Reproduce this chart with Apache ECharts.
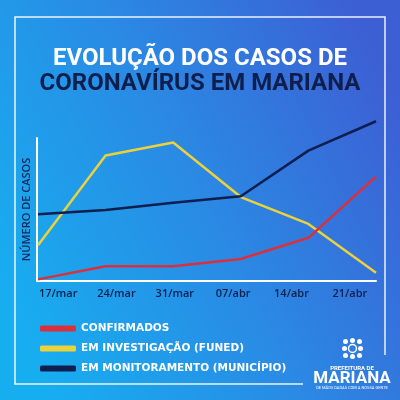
<!DOCTYPE html>
<html><head><meta charset="utf-8">
<script src="https://cdn.jsdelivr.net/npm/echarts@6/dist/echarts.min.js"></script>
<style>html,body{margin:0;padding:0;}#c{width:400px;height:400px;}</style>
</head><body><div id="c"></div>
<script>
var categories = ['17/mar','24/mar','31/mar','07/abr','14/abr','21/abr'];
var confirmados = [1, 9, 9, 13.5, 26.5, 64];
var investigacao = [22, 77, 85, 51.5, 35, 5];
var monitoramento = [41, 43.5, 48, 52, 80, 98];
var seriesNames = ['CONFIRMADOS','EM INVESTIGAÇÃO (FUNED)','EM MONITORAMENTO (MUNICÍPIO)'];
var seriesColors = ['#d9303c','#ecd23a','#0e1e4f'];

var chart = echarts.init(document.getElementById('c'));
var lineFont = 'DejaVu Sans';
chart.setOption({
  animation:false,
  backgroundColor:{type:'linear',x:0,y:0.75,x2:1,y2:0.25,colorStops:[
    {offset:0,color:'#17aef0'},{offset:0.5,color:'#2a8ae4'},{offset:1,color:'#3d5fd4'}]},
  title:[
    {text:'EVOLUÇÃO DOS CASOS DE',left:'center',top:42,textStyle:{color:'#ffffff',fontFamily:'Roboto',fontWeight:'bold',fontSize:24}},
    {text:'CORONAVÍRUS EM MARIANA',left:'center',top:67,textStyle:{color:'#0f1f4d',fontFamily:'Roboto',fontWeight:'bold',fontSize:24}}
  ],
  legend:{orient:'vertical',left:40,top:323,padding:0,itemWidth:36,itemHeight:6,itemGap:9,itemTextGap:10,
    icon:'roundRect',data:seriesNames,
    textStyle:{color:'#ffffff',fontFamily:lineFont,fontWeight:'bold',fontSize:10.5}},
  grid:[
    {left:38,right:24,top:118,bottom:119},
    {left:29,right:21,top:138,bottom:119},
    {left:37,right:362,top:138,bottom:119}
  ],
  xAxis:[
    {type:'category',gridIndex:0,data:categories,boundaryGap:false,
      axisLine:{lineStyle:{color:'#ffffff',width:2}},axisTick:{show:false},axisLabel:{show:false}},
    {type:'category',gridIndex:1,data:categories,boundaryGap:true,
      axisLine:{show:false},axisTick:{show:false},
      axisLabel:{color:'#0f1f4d',fontFamily:'Open Sans',fontWeight:600,fontSize:11,margin:7}},
    {type:'category',gridIndex:2,data:categories,show:false}
  ],
  yAxis:[
    {type:'value',gridIndex:0,min:0,max:100,show:false},
    {type:'value',gridIndex:1,show:false},
    {type:'value',gridIndex:2,min:0,max:100,
      axisLine:{show:true,lineStyle:{color:'#ffffff',width:2}},axisTick:{show:false},axisLabel:{show:false},splitLine:{show:false},
      name:'NÚMERO DE CASOS',nameLocation:'middle',nameRotate:90,nameGap:5,
      nameTextStyle:{color:'#15265a',fontFamily:'Open Sans',fontWeight:600,fontSize:11}}
  ],
  series:[
    {name:seriesNames[1],type:'line',data:investigacao,symbol:'none',xAxisIndex:0,yAxisIndex:0,
      itemStyle:{color:seriesColors[1]},lineStyle:{color:seriesColors[1],width:2.5}},
    {name:seriesNames[0],type:'line',data:confirmados,symbol:'none',xAxisIndex:0,yAxisIndex:0,
      itemStyle:{color:seriesColors[0]},lineStyle:{color:seriesColors[0],width:2.5}},
    {name:seriesNames[2],type:'line',data:monitoramento,symbol:'none',xAxisIndex:0,yAxisIndex:0,
      itemStyle:{color:seriesColors[2]},lineStyle:{color:seriesColors[2],width:2.5}}
  ],
  graphic:[
    {type:'polyline',silent:true,shape:{points:[[303,384],[15,384],[15,17],[385,17],[385,355]]},
      style:{stroke:'rgba(255,255,255,0.9)',lineWidth:1.5,fill:null}},
    {type:'group',left:342,top:338,children:[
      {type:'circle',shape:{cx:3,cy:3,r:2.5},style:{fill:'#fff'}},
      {type:'circle',shape:{cx:10,cy:2,r:2.5},style:{fill:'#fff'}},
      {type:'circle',shape:{cx:17,cy:3,r:2.5},style:{fill:'#fff'}},
      {type:'circle',shape:{cx:2,cy:10,r:2.5},style:{fill:'#fff'}},
      {type:'circle',shape:{cx:18,cy:10,r:2.5},style:{fill:'#fff'}},
      {type:'circle',shape:{cx:3,cy:17,r:2.5},style:{fill:'#fff'}},
      {type:'circle',shape:{cx:10,cy:18,r:2.5},style:{fill:'#fff'}},
      {type:'circle',shape:{cx:17,cy:17,r:2.5},style:{fill:'#fff'}},
      {type:'circle',shape:{cx:10,cy:10,r:4},style:{fill:'none',stroke:'#fff',lineWidth:1.5}}
    ]},
    {type:'text',x:352,y:368,style:{text:'PREFEITURA DE',fill:'#ffffff',font:'bold 6px Roboto',textAlign:'center',textVerticalAlign:'middle'}},
    {type:'text',x:352,y:379,style:{text:'MARIANA',fill:'#ffffff',font:'bold 17px Roboto',textAlign:'center',textVerticalAlign:'middle'}},
    {type:'text',x:352,y:388,style:{text:'DE MÃOS DADAS COM A NOSSA GENTE',fill:'#ffffff',font:'4px Roboto',textAlign:'center',textVerticalAlign:'middle'}}
  ]
});
</script></body></html>
